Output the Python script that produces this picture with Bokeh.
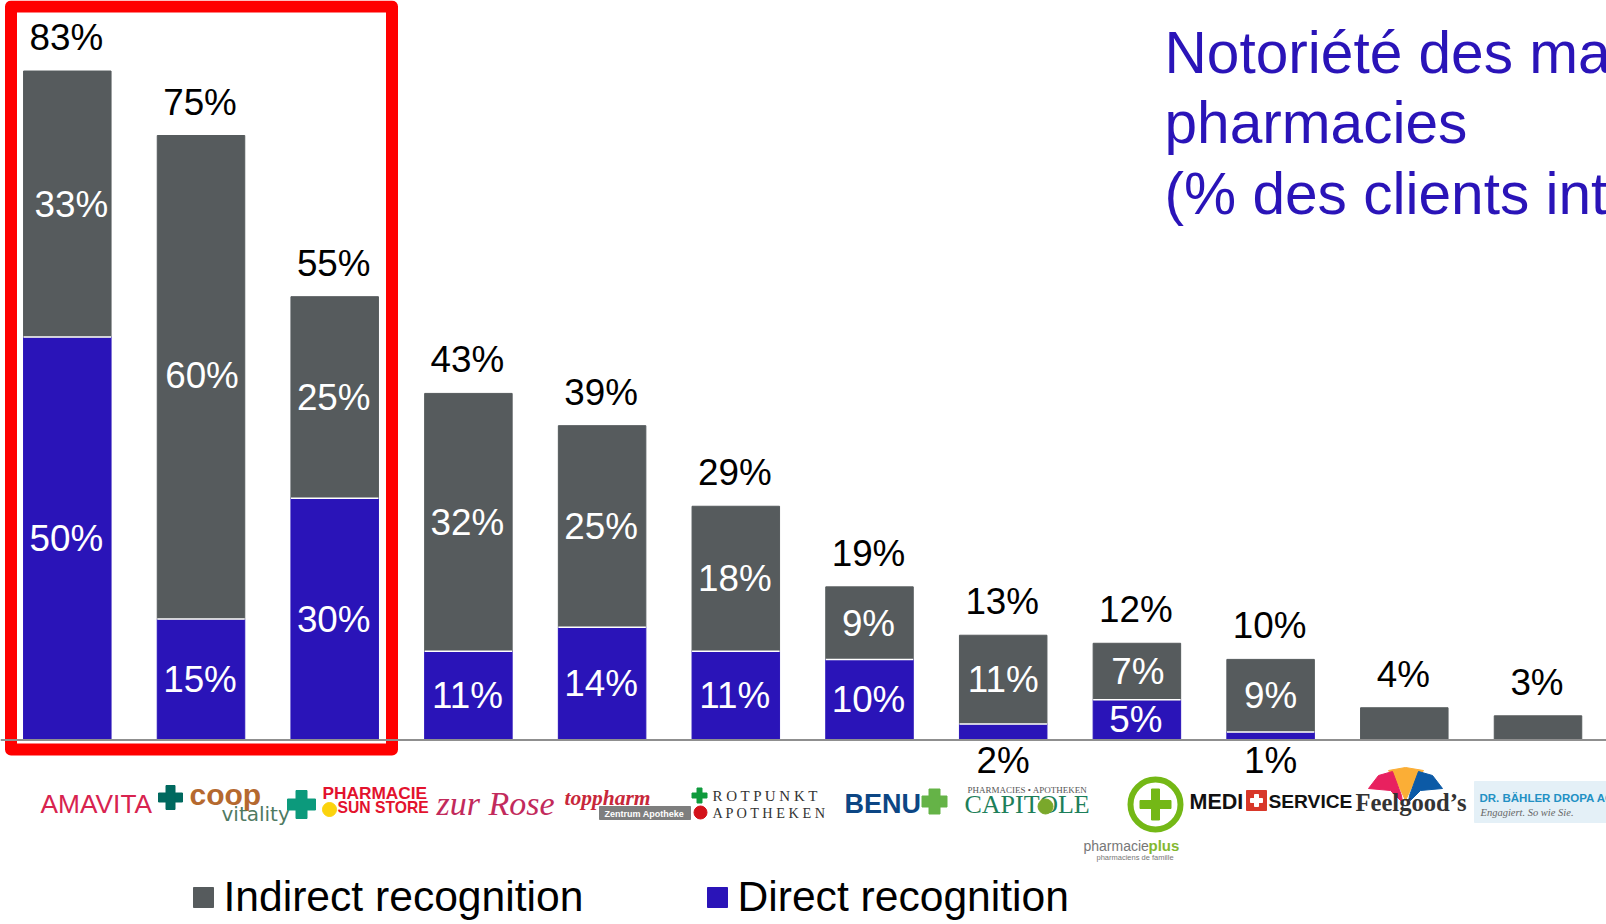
from bokeh.plotting import figure
from bokeh.models import Range1d, Span, ColumnDataSource
from bokeh.core.properties import value
from bokeh.embed import file_html
from bokeh.resources import INLINE

brands = ["Amavita", "Coop Vitality", "Sun Store", "Zur Rose", "TopPharm", "Rotpunkt", "Benu",
          "Capitole", "Pharmacieplus", "Medi-Service", "Feelgood's", "Dr. Bähler Dropa"]
direct = [50, 15, 30, 11, 14, 11, 10, 2, 5, 1, 0, 0]
indirect = [33, 60, 25, 32, 25, 18, 9, 11, 7, 9, 4, 3]
totals = [83, 75, 55, 43, 39, 29, 19, 13, 12, 10, 4, 3]
title_lines = ["Notoriété des ma", "pharmacies", "(% des clients int"]
legend_labels = ["Indirect recognition", "Direct recognition"]

BLUE = "#2a14b8"
GREY = "#565b5d"
FONT = value("Liberation Sans")

W, H = 1606, 924
PX_PER_PCT = 8.06
BASE = 739.5
PITCH = 133.7
X0 = 66.8
x_lo = -X0 / PITCH
y_lo = (BASE - H) / PX_PER_PCT
p = figure(width=W, height=H, output_backend="svg", toolbar_location=None,
           x_range=Range1d(x_lo, x_lo + W / PITCH), y_range=Range1d(y_lo, BASE / PX_PER_PCT),
           min_border=0, outline_line_color=None, background_fill_color="white")
p.axis.visible = False
p.grid.visible = False
p.extra_x_ranges["px"] = Range1d(0, W)
p.extra_y_ranges["px"] = Range1d(H, 0)

xs = list(range(len(brands)))
bw = 87.5 / PITCH
src = ColumnDataSource(dict(x=xs, direct=direct, total=[d + i for d, i in zip(direct, indirect)],
                            indirect=indirect))
p.vbar(x="x", bottom=0, top="direct", width=bw, color=BLUE, source=src)
p.vbar(x="x", bottom="direct", top="total", width=bw, color=GREY, source=src)
sep = [i for i in xs if direct[i] > 0]
p.segment(x0=[i - bw / 2 for i in sep], x1=[i + bw / 2 for i in sep], y0=[direct[i] for i in sep],
          y1=[direct[i] for i in sep], line_color="white", line_width=1.5)
p.add_layout(Span(location=0, dimension="width", line_color="#8f8f8f", line_width=2))

LAB = "36.8px"
p.text(x=xs, y=totals, x_offset=-1, y_offset=-13, text=[f"{t}%" for t in totals], text_font=FONT,
       text_font_size=LAB, text_color="black", text_align="center", text_baseline="bottom")
nudge_x = {0: 4, 1: 1, 2: -1, 3: -1, 4: -1, 5: -1, 6: -1, 8: 1}
nudge_y = {1: -2}
idx = [i for i in xs if totals[i] >= 10]
p.text(x=idx, y=[direct[i] + indirect[i] / 2 for i in idx], x_offset=[nudge_x.get(i, 0) for i in idx],
       y_offset=[nudge_y.get(i, 0) for i in idx],
       text=[f"{indirect[i]}%" for i in idx], text_font=FONT, text_font_size=LAB, text_color="white",
       text_align="center", text_baseline="middle")
idx = [i for i in xs if direct[i] >= 5]
p.text(x=idx, y=[direct[i] / 2 for i in idx], x_offset=-1, text=[f"{direct[i]}%" for i in idx], text_font=FONT,
       text_font_size=LAB, text_color="white", text_align="center", text_baseline="middle")
idx = [i for i in xs if 0 < direct[i] < 5]
p.text(x=idx, y=0, y_offset=0, text=[f"{direct[i]}%" for i in idx], text_font=FONT,
       text_font_size=LAB, text_color="black", text_align="center", text_baseline="top")

p.quad(left=10.5, right=391.5, top=6, bottom=749, x_range_name="px", y_range_name="px",
       fill_color=None, line_color="#ff0000", line_width=12, line_join="round")


def t(x, y, s, size, color, font="Liberation Sans", style="normal", align="left"):
    p.text(x=[x], y=[y], text=[s], text_font=value(font), text_font_size=f"{size}px", text_color=color,
           text_font_style=style, text_align=align, text_baseline="middle",
           x_range_name="px", y_range_name="px")


def box(l, r, top, bot, color):
    p.quad(left=l, right=r, top=top, bottom=bot, color=color, x_range_name="px", y_range_name="px")


def cross(x, y, size, arm, color):
    box(x - size / 2, x + size / 2, y - arm / 2, y + arm / 2, color)
    box(x - arm / 2, x + arm / 2, y - size / 2, y + size / 2, color)


def dot(x, y, d, color):
    p.scatter(x=[x], y=[y], size=d, color=color, x_range_name="px", y_range_name="px")


def poly(xs_, ys_, color):
    p.patch(xs_, ys_, color=color, x_range_name="px", y_range_name="px")


for k, line in enumerate(title_lines):
    t(1164, 51.5 + k * 70.6, line, 58.6, BLUE)

box(193, 213, 887, 907, GREY)
t(223, 895, legend_labels[0], 42.6, "black")
box(707, 727, 887, 907, BLUE)
t(737, 895, legend_labels[1], 42.6, "black")

t(40, 803, "AMAVITA", 26.3, "#d8234f")
cross(170, 797, 24, 9, "#00695f")
t(189, 794, "coop", 30, "#b5692f", "Liberation Sans", "bold")
t(221, 813, "vitality", 20, "#4f7a62", "DejaVu Sans")
cross(301, 804, 28, 11, "#0c9a7c")
t(322, 792, "PHARMACIE", 17.3, "#e3122d", "Liberation Sans", "bold")
dot(329, 809, 14, "#fbd30d")
t(337, 807, "SUN STORE", 15.7, "#e3122d", "Liberation Sans", "bold")
t(436, 803, "zur Rose", 34, "#c22a5c", "Liberation Serif", "italic")
t(564, 797, "toppharm", 21.5, "#c8273a", "Liberation Serif", "bold italic")
box(599, 690, 806, 819, "#7e7e7e")
t(604, 813, "Zentrum Apotheke", 9, "white", "Liberation Sans", "bold")
cross(699, 795, 15, 5, "#0f9a3c")
dot(700, 812, 13, "#d3121a")
t(712, 795, "R O T P U N K T", 15, "#333333", "Liberation Serif")
t(712, 812, "A P O T H E K E N", 14.3, "#333333", "Liberation Serif")
t(844, 803, "BENU", 27, "#0c4684", "Liberation Sans", "bold")
cross(934, 801, 25, 11, "#65b347")
t(967, 789, "PHARMACIES • APOTHEKEN", 9, "#555555", "Liberation Serif")
t(964, 804, "CAPITOLE", 26, "#1d7f5a", "Liberation Serif")
dot(1045, 806, 15, "#7aa82b")
p.scatter(x=[1155], y=[804], size=50, fill_color=None, line_color="#74b816", line_width=6,
          x_range_name="px", y_range_name="px")
cross(1155, 804, 31, 8, "#74b816")
t(1083, 845, "pharmacie", 14, "#777777")
t(1148, 845, "plus", 15, "#84b82f", "Liberation Sans", "bold")
t(1096, 857, "pharmaciens de famille", 7.5, "#777777")
t(1189, 801, "MEDI", 21.5, "#111111", "Liberation Sans", "bold")
box(1246, 1266, 790, 810, "#d8382a")
cross(1256, 800, 12, 4, "white")
t(1268, 801, "SERVICE", 19.2, "#111111", "Liberation Sans", "bold")
poly([1388, 1405, 1423, 1412, 1405, 1398], [770, 767, 770, 785, 800, 785], "#fbae36")
poly([1368, 1378, 1392, 1401, 1402, 1390], [788, 775, 771, 795, 802, 790], "#e8215f")
poly([1442, 1432, 1418, 1409, 1408, 1420], [788, 775, 771, 795, 802, 790], "#0c5aa6")
t(1355, 802, "Feelgood’s", 24.6, "#333333", "Liberation Serif", "bold")
box(1474, 1606, 781, 822, "#e4f0f7")
t(1479, 797, "DR. BÄHLER DROPA AG", 11.5, "#2290c4", "Liberation Sans", "bold")
t(1480, 812, "Engagiert. So wie Sie.", 10.5, "#666666", "Liberation Serif", "italic")

open("out.html", "w").write(file_html(p, INLINE))
